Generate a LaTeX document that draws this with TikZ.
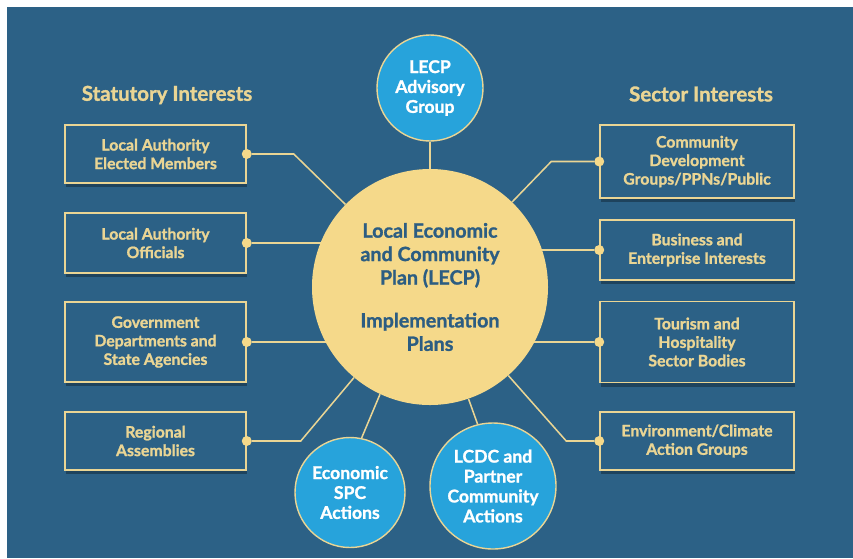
\documentclass[tikz,border=0pt]{standalone}
\usepackage{fontspec}
\setmainfont{Lato}[BoldFeatures={FakeBold=1.3}]
\usepackage{xcolor}
\usepackage{tikz}
\usetikzlibrary{shadows}
\definecolor{bgblue}{RGB}{44,97,134}
\definecolor{lecpyellow}{RGB}{245,217,138}
\definecolor{lineyellow}{RGB}{234,213,148}
\definecolor{skyblue}{RGB}{39,163,219}
\definecolor{textblue}{RGB}{44,93,130}
\pgfdeclarelayer{back}
\pgfsetlayers{back,main}
\tikzset{
  interest/.style={draw=lineyellow, line width=1.3pt, fill=bgblue, text=lineyellow,
    font=\bfseries\fontsize{13.5}{15.8}\selectfont, align=center, inner sep=0pt,
    drop shadow={shadow xshift=0.4mm, shadow yshift=-1.2mm, opacity=0.3, fill=black}},
  leftbox/.style={interest, minimum width=54.3mm},
  rightbox/.style={interest, minimum width=58.2mm},
  actor/.style={circle, draw=lineyellow, line width=1.2pt, fill=skyblue, text=white,
    font=\bfseries\fontsize{15}{17}\selectfont, align=center, inner sep=0pt},
  knob/.style={circle, fill=lecpyellow, inner sep=0pt, minimum size=3mm},
  link/.style={draw=lineyellow, line width=1.3pt},
  heading/.style={text=lineyellow, font=\bfseries\fontsize{17.5}{20}\selectfont}
}

\begin{document}
\begin{tikzpicture}[x=0.3mm, y=-0.3mm]
    \useasboundingbox (0,0) rectangle (853,558);
    \begin{pgfonlayer}{back}
      \fill[bgblue] (7,7) rectangle (853,558);
    \end{pgfonlayer}

    \node[heading] (stat) at (167,95) {Statutory Interests};
    \node[heading] (sect) at (701,94) {Sector Interests};

    \node[circle, fill=lecpyellow, minimum size=70.8mm, inner sep=0pt, text=textblue,
      align=center, font=\bfseries\fontsize{16.8}{20}\selectfont] (lecp) at (430,287)
      {Local Economic\\and Community\\Plan (LECP)\\[16.6pt]Implementation\\Plans};

    \node[leftbox, minimum height=17.4mm] (l1) at (155.5,154) {Local Authority\\Elected Members};
    \node[leftbox, minimum height=18mm] (l2) at (155.5,243) {Local Authority\\Officials};
    \node[leftbox, minimum height=24mm] (l3) at (155.5,342) {Government\\Departments and\\State Agencies};
    \node[leftbox, minimum height=17.4mm] (l4) at (155.5,441) {Regional\\Assemblies};

    \node[rightbox, minimum height=21.9mm] (r1) at (697,161.5) {Community\\Development\\Groups/PPNs/Public};
    \node[rightbox, minimum height=18mm] (r2) at (697,250) {Business and\\Enterprise Interests};
    \node[rightbox, minimum height=24.3mm] (r3) at (697,342) {Tourism and\\Hospitality\\Sector Bodies};
    \node[rightbox, minimum height=17.4mm] (r4) at (697,441) {Environment/Climate\\Action Groups};

    \foreach \s in {1,2,3,4} {
      \node[knob] (ld\s) at (l\s.east) {};
      \node[knob] (rd\s) at (r\s.west) {};
     }

    \node[actor, minimum size=31.8mm] (adv) at (430,88) {LECP\\Advisory\\Group};
    \node[actor, minimum size=33mm] (spc) at (350,492.5) {Economic\\SPC\\Actions};
    \node[actor, minimum size=37.8mm] (lcdc) at (493,486) {LCDC and\\Partner\\Community\\Actions};

    \begin{pgfonlayer}{back}
      \draw[link] (ld1) -- ++(47,0) -- (lecp);
      \draw[link] (ld2) -- (ld2 -| lecp);
      \draw[link] (ld3) -- (ld3 -| lecp);
      \draw[link] (ld4) -- ++(54,0) -- (lecp);
      \draw[link] (rd1) -- ++(-48,0) -- (lecp);
      \draw[link] (rd2) -- (rd2 -| lecp);
      \draw[link] (rd3) -- (rd3 -| lecp);
      \draw[link] (rd4) -- ++(-33,0) -- (lecp);
      \draw[link] (adv) -- (lecp);
      \draw[link] (spc.78) -- (lecp.245);
      \draw[link] (lcdc.104) -- (lecp.289);
    \end{pgfonlayer}
   \end{tikzpicture}
\end{document}
